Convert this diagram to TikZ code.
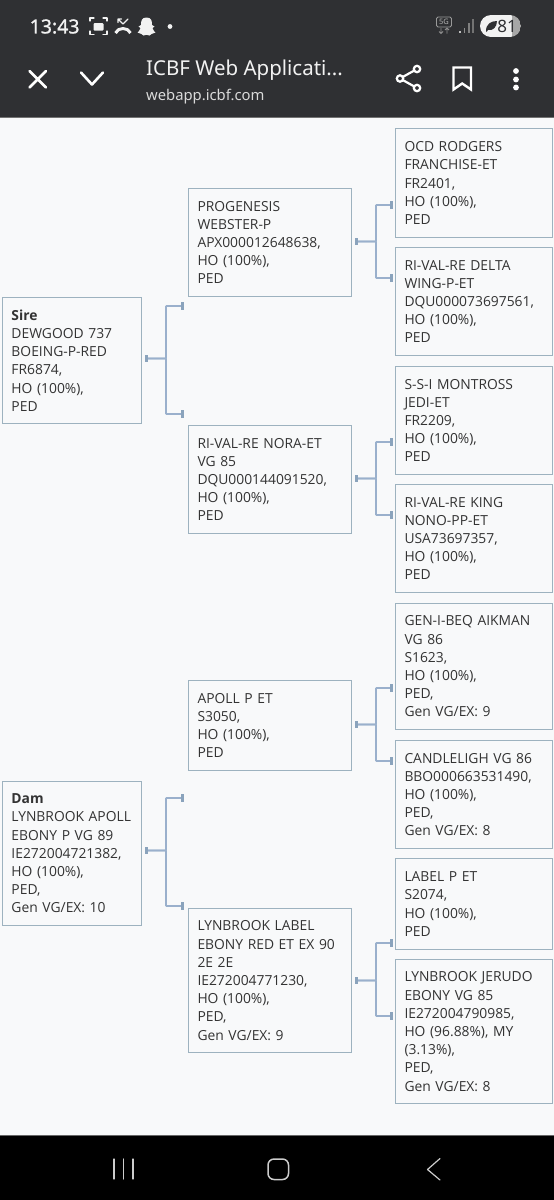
\documentclass[tikz,border=0pt]{standalone}
\usepackage{fontspec}
\setmainfont{Open Sans}
\newfontfamily\uifont{Noto Sans}
\usetikzlibrary{arrows.meta}
\definecolor{barc}{HTML}{2F3033}
\definecolor{pagec}{HTML}{F8F9FA}
\definecolor{boxc}{HTML}{9DB2BF}
\definecolor{linkc}{HTML}{9AB0CC}
\definecolor{tickc}{HTML}{8AA3BC}
\definecolor{textc}{HTML}{333333}
\definecolor{iconc}{HTML}{F2F2F2}
\tikzset{
  x=1pt,y=-1pt,
  pbox/.style={draw=boxc,line width=1pt,fill=pagec,anchor=north west,align=left,inner xsep=9pt,inner ysep=0pt,
    text=textc,font=\fontsize{13.85}{18.2}\selectfont},
  conn/.style={draw=linkc,line width=1.6pt,{Rectangle[length=3pt,width=7.5pt,color=tickc]}-{Rectangle[length=3pt,width=7.5pt,color=tickc]},rounded corners=0.5pt},
  icon/.style={draw=iconc,line width=1.5pt,line cap=round,line join=round},
  bigicon/.style={draw=white,line width=2.6pt,line cap=round,line join=round},
  navicon/.style={draw=black!20,line width=1.2pt,line cap=round,line join=round},
}
\newcommand{\pednode}[6]{% name,x1,y1,x2,y2,text
  \pgfmathsetlengthmacro{\bw}{#4-#2}%
  \pgfmathsetlengthmacro{\bh}{#5-#3}%
  \pgfmathsetlengthmacro{\tw}{#4-#2-18}%
  \node[pbox,minimum width=\bw,minimum height=\bh,text width=\tw] (#1) at (#2,#3) {#6};}
\begin{document}
\begin{tikzpicture}
\useasboundingbox (0,0) rectangle (554,1200);
\fill[pagec] (0,0) rectangle (554,1200);
% top bar
\fill[barc] (0,0) rectangle (554,117);
\draw[black!55,line width=1pt] (0,117.5) -- (554,117.5);
% bottom bar
\fill[black] (0,1135) rectangle (554,1200);
\draw[black!60,line width=1pt] (0,1135) -- (554,1135);
% status bar
\node[anchor=west,inner sep=0pt,text=iconc,font=\uifont\fontsize{19.5}{20}\selectfont] (clock) at (29.5,26.5) {\addfontfeature{FakeBold=1}13:43};
\draw[icon,line width=1.2pt] (90,21) -- (90,18) -- (94,18) (103,18) -- (107,18) -- (107,21) (107,31) -- (107,34.5) -- (103,34.5) (94,34.5) -- (90,34.5) -- (90,31);
\fill[iconc,rounded corners=1pt] (93.5,23) rectangle (103.5,30.5);
\draw[icon,line width=1.3pt] (118,19) -- (123,24) -- (128,19) (118,19) -- (118,22.5) (118,19) -- (121.5,19);
\draw[icon,line width=3pt,line cap=butt] (115.5,33) .. controls (118,27) and (128,27) .. (130.5,33);
\fill[iconc] (146.5,17.5) .. controls (141.5,17.5) and (141,21) .. (141,25) -- (138.5,26.5) -- (140.5,28) .. controls (140,30.5) and (138.5,31.5) .. (137.5,32.5) -- (141.5,34) -- (143.5,35.5) .. controls (145,34.5) and (148,34.5) .. (149.5,35.5) -- (151.5,34) -- (155.5,32.5) .. controls (154.5,31.5) and (153,30.5) .. (152.5,28) -- (154.5,26.5) -- (152,25) .. controls (152,21) and (151.5,17.5) .. (146.5,17.5) -- cycle;
\fill[iconc] (170,26.5) circle (2.4);
% 5G
\draw[black!40!white,line width=0.8pt,rounded corners=1.5pt] (436.5,17) rectangle (451.5,27);
\node[inner sep=0pt,text=black!30!white,font=\uifont\bfseries\fontsize{7.5}{8}\selectfont] (fiveg) at (444,22) {5G};
\draw[black!45!white,line width=0.9pt] (441,28) -- (441,33.5) (439,31.5) -- (441,33.5) -- (443,31.5) (447,33.5) -- (447,28) (445,30) -- (447,28) -- (449,30);
% signal
\fill[white!75!black] (458.5,31) rectangle (460.5,33);
\fill[black!45!white] (463.5,27.5) rectangle (465,33);
\fill[black!50!white] (468,23) rectangle (469.5,33);
\fill[black!55!white] (472,18.5) rectangle (473.5,33);
% battery
\begin{scope}
\clip[rounded corners=11pt] (480,15) rectangle (521,37);
\fill[iconc] (480,15) rectangle (512,37);
\fill[black!35!white] (512,15) rectangle (521,37);
\end{scope}
\fill[barc] (486,31) .. controls (486,24) and (491,21) .. (497,21) .. controls (497,27) and (493,31) .. (488,30) -- (486.5,32) -- cycle;
\node[inner sep=0pt,text=barc,font=\uifont\bfseries\fontsize{17}{17}\selectfont] (batt) at (507,26.5) {81};
% toolbar
\draw[bigicon] (29.5,71) -- (46,87.5) (46,71) -- (29.5,87.5);
\draw[bigicon] (81,72.5) -- (92,84.5) -- (103,72.5);
\node[anchor=base west,inner sep=0pt,text=iconc,font=\uifont\fontsize{20.5}{20}\selectfont] (title) at (146,75) {ICBF Web Applicati...};
\node[anchor=base west,inner sep=0pt,text=iconc!90!black,font=\uifont\fontsize{14.8}{16}\selectfont] (url) at (146,100) {webapp.icbf.com};
\draw[draw=white,line width=2.2pt] (417,69) -- (400,78.5) -- (417,88);
\foreach \p in {(417,69),(400,78.5),(417,88)} \filldraw[draw=white,fill=barc,line width=2.2pt] \p circle (3.2);
\draw[draw=white,line width=2.4pt,line join=miter] (453.5,67.5) -- (471,67.5) -- (471,89.5) -- (462.2,83.5) -- (453.5,89.5) -- cycle;
\foreach \yy in {71,79.5,87.5} \fill[white] (516,\yy) circle (2.9);
% nav
\draw[navicon] (114,1159) -- (114,1179) (123.5,1159) -- (123.5,1179) (133,1159) -- (133,1179);
\draw[navicon,line width=1.5pt,rounded corners=6pt] (268,1159) rectangle (288.5,1179.5);
\draw[navicon] (440,1158.5) -- (427.5,1169.5) -- (440,1180);
% boxes
\pednode{sire}{2}{297}{141}{423}{\textbf{Sire}\\DEWGOOD 737\\BOEING-P-RED\\FR6874,\\HO (100\%),\\PED}
\pednode{prog}{188}{188}{351}{296}{PROGENESIS\\WEBSTER-P\\APX000012648638,\\HO (100\%),\\PED}
\pednode{nora}{188}{425}{351}{533}{RI-VAL-RE NORA-ET\\VG 85\\DQU000144091520,\\HO (100\%),\\PED}
\pednode{ocd}{395}{128}{552}{237}{OCD RODGERS\\FRANCHISE-ET\\FR2401,\\HO (100\%),\\PED}
\pednode{delta}{395}{247}{552}{355}{RI-VAL-RE DELTA\\WING-P-ET\\DQU000073697561,\\HO (100\%),\\PED}
\pednode{ssi}{395}{366}{552}{474}{S-S-I MONTROSS\\JEDI-ET\\FR2209,\\HO (100\%),\\PED}
\pednode{king}{395}{484}{552}{592}{RI-VAL-RE KING\\NONO-PP-ET\\USA73697357,\\HO (100\%),\\PED}
\pednode{apoll}{188}{680}{351}{770}{APOLL P ET\\S3050,\\HO (100\%),\\PED}
\pednode{gen}{395}{603}{552}{729}{GEN-I-BEQ AIKMAN\\VG 86\\S1623,\\HO (100\%),\\PED,\\Gen VG/EX: 9}
\pednode{cand}{395}{740}{552}{848}{CANDLELIGH VG 86\\BBO000663531490,\\HO (100\%),\\PED,\\Gen VG/EX: 8}
\pednode{dam}{2}{781}{141}{925}{\mbox{\textbf{Dam}}\\\mbox{LYNBROOK APOLL}\\EBONY P VG 89\\IE272004721382,\\HO (100\%),\\PED,\\Gen VG/EX: 10}
\pednode{lyn}{188}{908}{351}{1052}{LYNBROOK LABEL\\EBONY RED ET EX 90\\2E 2E\\IE272004771230,\\HO (100\%),\\PED,\\Gen VG/EX: 9}
\pednode{label}{395}{858}{552}{949}{LABEL P ET\\S2074,\\HO (100\%),\\PED}
\pednode{jer}{395}{959}{552}{1103}{LYNBROOK JERUDO\\EBONY VG 85\\IE272004790985,\\HO (96.88\%), MY\\(3.13\%),\\PED,\\Gen VG/EX: 8}
% connector free ends
\coordinate (s1) at (183.5,306); \coordinate (s2) at (183.5,414);
\coordinate (p1) at (392.5,205); \coordinate (p2) at (392.5,278);
\coordinate (n1) at (392.5,442); \coordinate (n2) at (392.5,515);
\coordinate (a1) at (392.5,688); \coordinate (a2) at (392.5,761);
\coordinate (d1) at (183.5,798); \coordinate (d2) at (183.5,906);
\coordinate (l1) at (392.5,943); \coordinate (l2) at (392.5,1016);
% connectors
\foreach \pn/\dy/\ea/\eb in {sire/2/s1/s2,dam/3/d1/d2,prog/1/p1/p2,nora/1/n1/n2,apoll/1/a1/a2,lyn/0/l1/l2}{
  \draw[conn] ([shift={(2.5pt,\dy pt)}]\pn.east) -- ++(21.5,0) |- (\ea);
  \draw[conn] ([shift={(2.5pt,\dy pt)}]\pn.east) -- ++(21.5,0) |- (\eb);
}
\end{tikzpicture}
\end{document}
